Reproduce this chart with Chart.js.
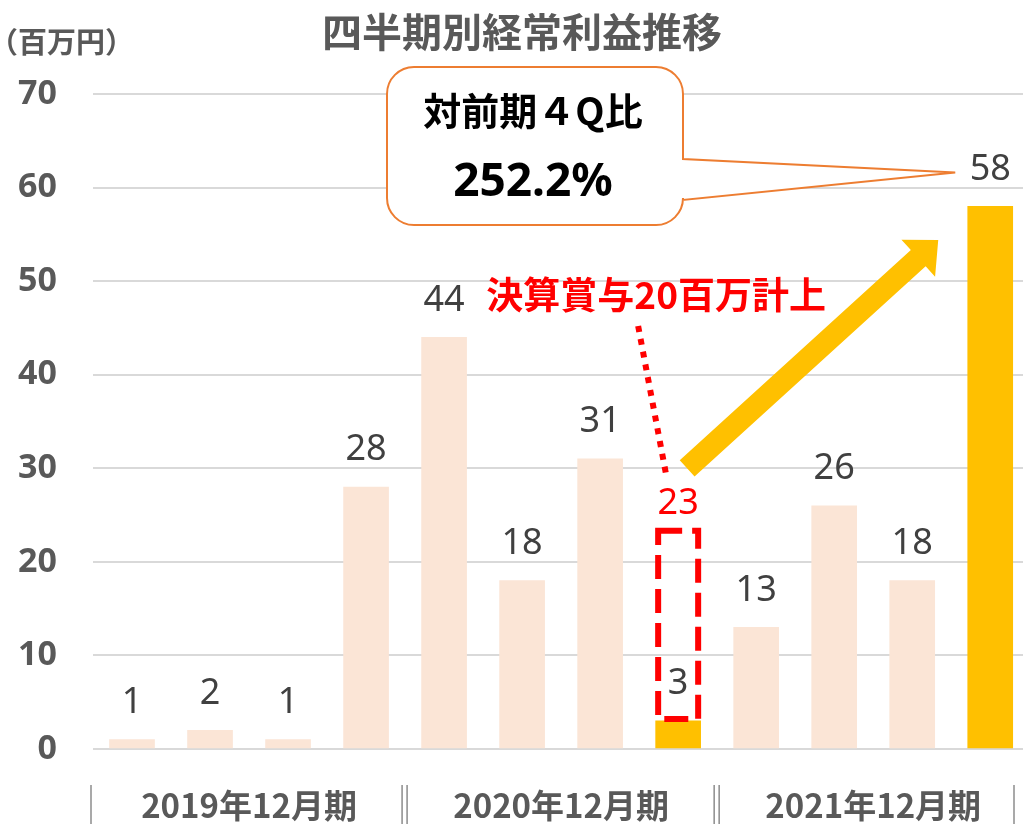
<!DOCTYPE html>
<html>
<head>
<meta charset="utf-8">
<script src="https://cdn.jsdelivr.net/npm/chart.js@4"></script>
<style>
  html, body { margin: 0; padding: 0; background: #fff; overflow: hidden; }
  canvas { display: block; }
</style>
</head>
<body>
<canvas id="chart" width="1023" height="824"></canvas>
<script>
// 四半期ごとの経常利益（百万円）
const quarters = ['2019 1Q', '2019 2Q', '2019 3Q', '2019 4Q',
                  '2020 1Q', '2020 2Q', '2020 3Q', '2020 4Q',
                  '2021 1Q', '2021 2Q', '2021 3Q', '2021 4Q'];
const profit = [1, 2, 1, 28, 44, 18, 31, 3, 13, 26, 18, 58];
const bonus = [0, 0, 0, 0, 0, 0, 0, 20, 0, 0, 0, 0];   // 決算賞与
const highlightQuarters = ['2020 4Q', '2021 4Q'];
const fiscalYears = ['2019年12月期', '2020年12月期', '2021年12月期'];
const yTicksMax = 70;
const growthText = '252.2%';

const CJK = '"Noto Sans CJK JP"';
const LAT = '"Noto Sans"';

function calloutPath(ctx, x, y, w, h, r, p1, p2, tip) {
  ctx.beginPath();
  ctx.moveTo(x + r, y);
  ctx.lineTo(x + w - r, y);
  ctx.arcTo(x + w, y, x + w, y + r, r);
  ctx.lineTo(x + w, p1);
  ctx.lineTo(tip.x, tip.y);
  ctx.lineTo(x + w, p2);
  ctx.lineTo(x + w, y + h - r);
  ctx.arcTo(x + w, y + h, x + w - r, y + h, r);
  ctx.lineTo(x + r, y + h);
  ctx.arcTo(x, y + h, x, y + h - r, r);
  ctx.lineTo(x, y + r);
  ctx.arcTo(x, y, x + r, y, r);
  ctx.closePath();
}

function drawArrow(ctx, sx, sy, tx, ty, shaft, headLen, headHalf) {
  const dx = tx - sx, dy = ty - sy;
  const len = Math.hypot(dx, dy);
  const ux = dx / len, uy = dy / len;
  const nx = -uy, ny = ux;
  const bx = tx - ux * headLen, by = ty - uy * headLen;
  ctx.beginPath();
  ctx.moveTo(sx + nx * shaft / 2, sy + ny * shaft / 2);
  ctx.lineTo(bx + nx * shaft / 2, by + ny * shaft / 2);
  ctx.lineTo(bx + nx * headHalf, by + ny * headHalf);
  ctx.lineTo(tx, ty);
  ctx.lineTo(bx - nx * headHalf, by - ny * headHalf);
  ctx.lineTo(bx - nx * shaft / 2, by - ny * shaft / 2);
  ctx.lineTo(sx - nx * shaft / 2, sy - ny * shaft / 2);
  ctx.closePath();
  ctx.fill();
}

const annotations = {
  id: 'annotations',
  afterDatasetsDraw(chart) {
    const ctx = chart.ctx;
    const x = chart.scales.x, y = chart.scales.y;
    const meta = chart.getDatasetMeta(0);
    ctx.save();

    // 値ラベル
    ctx.textAlign = 'center';
    ctx.textBaseline = 'middle';
    ctx.font = '36px ' + LAT;
    ctx.fillStyle = '#404040';
    meta.data.forEach((bar, i) => {
      ctx.fillText(String(profit[i]), bar.x, bar.y - 37);
    });

    // 決算賞与の点線枠
    const bi = bonus.findIndex(b => b > 0);
    const bb = meta.data[bi];
    const boxTop = y.getPixelForValue(profit[bi] + bonus[bi]) - 3;
    const boxBot = y.getPixelForValue(profit[bi]) - 2;
    ctx.strokeStyle = '#FF0000';
    ctx.lineWidth = 6;
    ctx.setLineDash([24, 10]);
    ctx.strokeRect(bb.x - 20, boxTop, 40, boxBot - boxTop);

    ctx.fillStyle = '#FF0000';
    ctx.fillText(String(profit[bi] + bonus[bi]), bb.x, boxTop - 27);

    // 点線と注記
    ctx.setLineDash([6, 7]);
    ctx.beginPath();
    ctx.moveTo(bb.x - 40, y.getPixelForValue(45.2));
    ctx.lineTo(bb.x - 12, y.getPixelForValue(29.3));
    ctx.stroke();
    ctx.setLineDash([]);
    ctx.font = 'bold 37px ' + CJK;
    ctx.fillText('決算賞与20百万計上', bb.x - 22, y.getPixelForValue(48.5));

    // 矢印
    const last = meta.data[meta.data.length - 1];
    ctx.fillStyle = '#FFC000';
    drawArrow(ctx, bb.x + 9, y.getPixelForValue(30), last.x - 52, y.getPixelForValue(54.4), 22, 27, 25);

    // 吹き出し
    const tip = { x: last.x - 35, y: y.getPixelForValue(61.6) };
    calloutPath(ctx, 387, 67, 296, 158, 27, 159, 200, tip);
    ctx.fillStyle = '#ffffff';
    ctx.fill();
    ctx.strokeStyle = '#ED7D31';
    ctx.lineWidth = 2;
    ctx.stroke();
    ctx.fillStyle = '#000000';
    ctx.font = 'bold 38px ' + CJK;
    ctx.fillText('対前期４Q比', 533, 111);
    ctx.font = 'bold 46px ' + LAT;
    ctx.fillText(growthText, 533, 183);

    // タイトルと単位
    ctx.fillStyle = '#595959';
    ctx.font = 'bold 40px ' + CJK;
    ctx.fillText('四半期別経常利益推移', 522, 32);
    ctx.textAlign = 'left';
    ctx.font = 'bold 29px ' + CJK;
    ctx.fillText('（百万円）', -11, 42);

    // 年度ラベルと区切り線
    ctx.textAlign = 'center';
    ctx.font = 'bold 33px ' + CJK;
    fiscalYears.forEach((fy, g) => {
      const x0 = x.getPixelForValue(g * 4 - 0.5);
      const x1 = x.getPixelForValue(g * 4 + 3.5);
      ctx.fillText(fy, (x0 + x1) / 2, 805);
    });
    ctx.strokeStyle = '#8c8c8c';
    ctx.lineWidth = 1.5;
    for (let g = 0; g <= fiscalYears.length; g++) {
      const px = Math.min(x.getPixelForValue(g * 4 - 0.5), chart.width - 7);
      const xs = (g === 0 || g === fiscalYears.length) ? [px - 2] : [px - 3, px + 2];
      xs.forEach(lx => {
        ctx.beginPath();
        ctx.moveTo(lx, 785);
        ctx.lineTo(lx, 824);
        ctx.stroke();
      });
    }

    ctx.restore();
  }
};

new Chart(document.getElementById('chart'), {
  type: 'bar',
  data: {
    datasets: [{
      data: profit.map((v, i) => ({ x: i, y: v })),
      backgroundColor: quarters.map(q => highlightQuarters.includes(q) ? '#FFC000' : '#FBE5D6'),
      barThickness: 45
    }]
  },
  options: {
    responsive: false,
    animation: false,
    layout: { padding: { top: 94, bottom: 75, left: 0, right: 0 } },
    plugins: { legend: { display: false }, tooltip: { enabled: false } },
    scales: {
      x: { type: 'linear', min: -0.5, max: 11.42, offset: false, display: false },
      y: {
        min: 0,
        max: yTicksMax,
        ticks: {
          stepSize: 10,
          padding: 36,
          color: '#595959',
          font: { family: 'Noto Sans', size: 34, weight: 'bold' }
        },
        grid: { color: '#d9d9d9', lineWidth: 2, drawTicks: false },
        border: { display: false },
        afterFit(scale) { scale.width = 93; }
      }
    }
  },
  plugins: [annotations]
});
</script>
</body>
</html>
